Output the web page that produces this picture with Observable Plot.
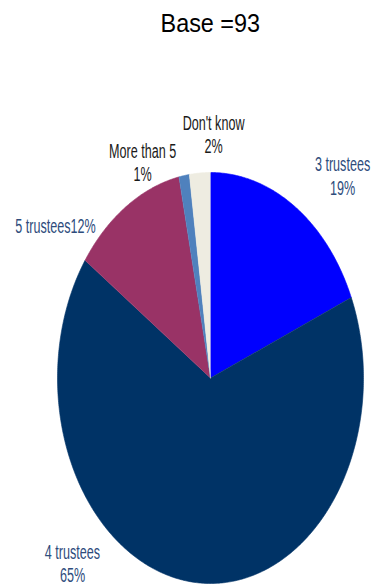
<!DOCTYPE html>
<html><head><meta charset="utf-8">
<script src="https://cdn.jsdelivr.net/npm/d3@7"></script>
<script src="https://cdn.jsdelivr.net/npm/@observablehq/plot@0.6"></script>
<style>
html,body{margin:0;padding:0;background:#fff;}
#title{width:372px;height:48px;box-sizing:border-box;padding-top:10px;padding-left:48px;text-align:center;font:26px/26px "Liberation Sans",Arial,sans-serif;color:#000;}
#title span{display:inline-block;transform:scaleX(0.9);transform-origin:center;}
#chart svg{display:block;}
</style></head><body>
<div id="title"><span>Base =93</span></div>
<div id="chart"></div>
<script>
// data
const categories = ["3 trustees", "4 trustees", "5 trustees", "More than 5", "Don't know"];
const shares = [18.6, 66.1, 12.0, 1.1, 2.2];
const percentLabels = ["19%", "65%", "12%", "1%", "2%"];
// styles / layout
const sliceColors = ["#0000FF", "#003366", "#993366", "#4F81BD", "#EEECE1"];
const labelColors = ["#2E4C7C", "#2E4C7C", "#2E4C7C", "#1A1A1A", "#1A1A1A"];
const labelSeparators = ["\n", "\n", "", "\n", "\n"];
const labelAt = [[0.863, 0.985], [-0.902, -0.9], [-1.013, 0.742], [-0.444, 1.049], [0.020, 1.189]];

const arcs = d3.pie().sort(null).value(d => d)(shares);
const slicePts = [];
arcs.forEach((a, i) => {
  slicePts.push({cat: categories[i], x: 0, y: 0});
  const n = Math.max(2, Math.ceil((a.endAngle - a.startAngle) / 0.01));
  for (let k = 0; k <= n; k++) {
    const t = a.startAngle + (a.endAngle - a.startAngle) * k / n;
    slicePts.push({cat: categories[i], x: Math.sin(t), y: Math.cos(t)});
  }
});

const labelMarks = categories.map((c, i) =>
  Plot.text([{x: labelAt[i][0], y: labelAt[i][1], t: c + labelSeparators[i] + percentLabels[i]}], {
    x: "x", y: "y", text: "t", fill: labelColors[i], fontSize: 21, lineHeight: 1.1,
    fontFamily: "Liberation Sans, Arial, sans-serif", textAnchor: "middle", lineAnchor: "middle"
  })
);

const chart = Plot.plot({
  width: 372, height: 540,
  marginLeft: 57, marginRight: 9, marginTop: 124, marginBottom: 5,
  x: {domain: [-1, 1], axis: null},
  y: {domain: [-1, 1], axis: null},
  color: {domain: categories, range: sliceColors},
  style: {background: "transparent", overflow: "visible"},
  marks: [
    Plot.line(slicePts, {x: "x", y: "y", z: "cat", fill: "cat", stroke: "cat", strokeWidth: 0.6, curve: "linear"}),
    ...labelMarks
  ]
});

d3.select(chart).selectAll("text").each(function() {
  const el = d3.select(this);
  let tr = el.attr("transform");
  if (!tr) {
    const x = +el.attr("x") || 0, y = +el.attr("y") || 0;
    el.attr("x", null).attr("y", null);
    tr = `translate(${x},${y})`;
  }
  el.attr("transform", tr + " scale(0.6,1)");
});

document.getElementById("chart").appendChild(chart);
</script>
</body></html>
